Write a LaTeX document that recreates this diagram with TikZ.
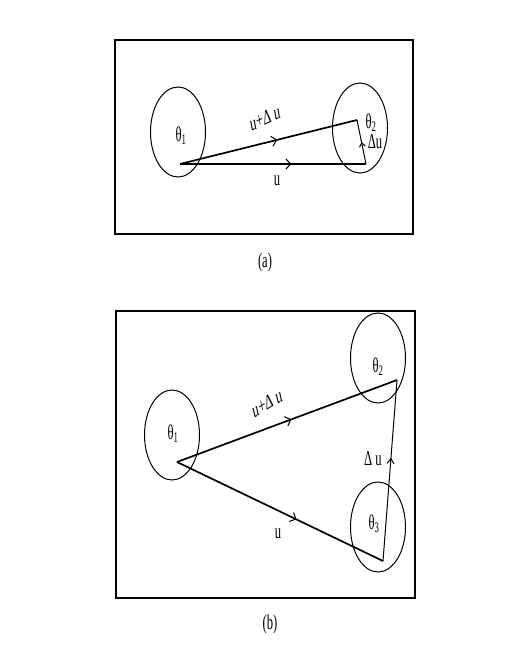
\documentclass[tikz,border=0pt]{standalone}
\usepackage{fontspec}
\setmainfont{Liberation Serif}
\usetikzlibrary{arrows.meta,decorations.markings,shapes.geometric}
\tikzset{
  cell/.style={ellipse,draw,line width=1pt,minimum width=55pt,minimum height=90pt,inner sep=0pt},
  vec/.style={line width=1.7pt,postaction={decorate},
    decoration={markings,mark=at position #1 with {\arrow[line width=1pt]{Straight Barb[length=5pt,width=10pt]}}}},
  lbl/.style={font=\fontsize{21}{23}\selectfont,xscale=0.6,inner sep=1pt}
}
\begin{document}
\begin{tikzpicture}[x=1pt,y=-1pt]
        \useasboundingbox (0,0) rectangle (518,654);
        % panel (a)
        \draw[line width=1.8pt] (115,40) rectangle (413,234);
        \node[cell] (a1) at (178,132) {};
        \node[cell] (a2) at (360,128) {};
        \node[lbl] at (181,136) {θ\textsubscript{1}};
        \node[lbl] at (371,123) {θ\textsubscript{2}};
        \coordinate (ao) at (180,164);
        \coordinate (au) at (366,164);
        \coordinate (aw) at (357,120);
        \draw[vec=0.6] (ao) -- (au);
        \draw[vec=0.55] (ao) -- (aw);
        \draw[line width=1pt,postaction={decorate},
          decoration={markings,mark=at position 0.5 with {\arrow{Straight Barb[length=4pt,width=6pt]}}}] (au) -- (aw);
        \node[lbl,rotate=15] at (265,118) {u+Δ u};
        \node[lbl] at (277,181) {u};
        \node[lbl] at (375,142) {Δu};
        \node[lbl] (capa) at (265,262) {(a)};

        % panel (b)
        \draw[line width=1.8pt] (116,311) rectangle (415,598);
        \node[cell] (b1) at (172,435) {};
        \node[cell] (b2) at (378,358) {};
        \node[cell] (b3) at (378,527) {};
        \node[lbl] at (173,434) {θ\textsubscript{1}};
        \node[lbl] at (378,367) {θ\textsubscript{2}};
        \node[lbl] at (374,524) {θ\textsubscript{3}};
        \coordinate (bo) at (177,462);
        \coordinate (bw) at (397,380);
        \coordinate (bu) at (383,561);
        \draw[vec=0.52] (bo) -- (bw);
        \draw[vec=0.58] (bo) -- (bu);
        \draw[line width=1pt,postaction={decorate},
          decoration={markings,mark=at position 0.57 with {\arrow{Straight Barb[length=5pt,width=7pt]}}}] (bu) -- (bw);
        \node[lbl,rotate=20] at (267,403) {u+Δ u};
        \node[lbl] at (278,534) {u};
        \node[lbl] at (373,459) {Δ u};
        \node[lbl] (capb) at (270,624) {(b)};
      \end{tikzpicture}
\end{document}
